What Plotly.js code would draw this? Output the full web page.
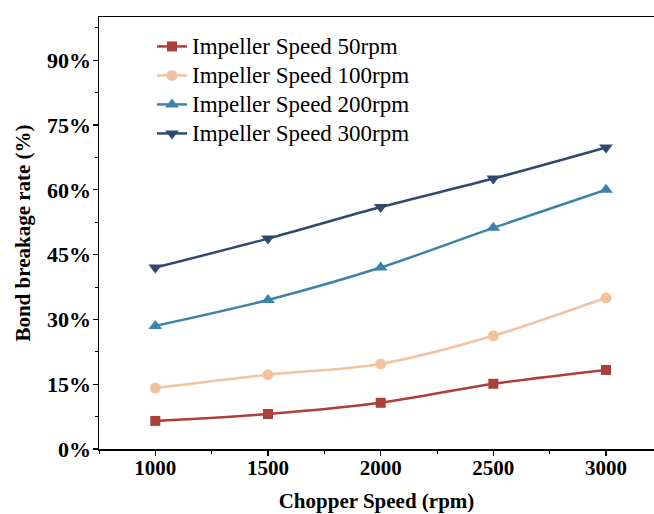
<!DOCTYPE html>
<html>
<head>
<meta charset="utf-8">
<script src="https://cdn.plot.ly/plotly-3.0.1.min.js"></script>
<style>html,body{margin:0;padding:0;background:#fff;}#chart{width:654px;height:514px;}</style>
</head>
<body>
<div id="chart"></div>
<script>
var chopperSpeed = [1000, 1500, 2000, 2500, 3000];
var rate50 = [6.5, 8.1, 10.7, 15.1, 18.3];
var rate100 = [14.1, 17.2, 19.7, 26.2, 35.0];
var rate200 = [28.5, 34.5, 42.0, 51.2, 60.0];
var rate300 = [42.0, 48.7, 56.0, 62.6, 69.8];
var seriesNames = ['Impeller Speed 50rpm', 'Impeller Speed 100rpm', 'Impeller Speed 200rpm', 'Impeller Speed 300rpm'];
var yTickVals = [0, 15, 30, 45, 60, 75, 90];
var xTickVals = [1000, 1500, 2000, 2500, 3000];

var FONT = 'Liberation Serif';
var colors = ['#AC3F38', '#F3C29F', '#3C83AA', '#2F4A6F'];
var symbols = ['square', 'circle', 'triangle-up', 'triangle-down'];
var sizes = [10, 11, 12, 12];
var allY = [rate50, rate100, rate200, rate300];

var traces = allY.map(function (ys, i) {
  return {
    x: chopperSpeed, y: ys, type: 'scatter', mode: 'lines+markers',
    name: '<span style="font-size:23px">' + seriesNames[i] + '</span>',
    line: {color: colors[i], width: 2.5, shape: 'spline', smoothing: 0.8},
    marker: {symbol: symbols[i], size: sizes[i], color: colors[i]}
  };
});

var layout = {
  width: 654, height: 514,
  margin: {l: 99, r: 0, t: 17, b: 65},
  paper_bgcolor: '#fff', plot_bgcolor: '#fff',
  showlegend: true,
  legend: {x: 0.0955, y: 0.977, xanchor: 'left', yanchor: 'top', bgcolor: 'rgba(0,0,0,0)',
    font: {family: FONT, size: 20, color: '#000'},
    tracegroupgap: 0},
  xaxis: {
    range: [750, 3213], tickvals: xTickVals, ticktext: xTickVals.map(String),
    showgrid: false, zeroline: false, showline: true, linecolor: '#000', linewidth: 1.5,
    mirror: true, ticks: 'outside', ticklen: 5, tickwidth: 1.2, tickcolor: '#000',
    ticklabelstandoff: -6,
    minor: {dtick: 250, ticks: 'outside', ticklen: 3, tickwidth: 1, tickcolor: '#000', showgrid: false},
    tickfont: {family: FONT, size: 21, color: '#000', weight: 'bold'},
    title: {text: '<b>Chopper Speed (rpm)</b>', font: {family: FONT, size: 21, color: '#000'}, standoff: 14}
  },
  yaxis: {
    range: [0, 100], tickvals: yTickVals, ticktext: yTickVals.map(function (v) { return v + '%'; }),
    showgrid: false, zeroline: false, showline: true, linecolor: '#000', linewidth: 1.5,
    ticks: 'outside', ticklen: 5, tickwidth: 1.2, tickcolor: '#000',
    ticklabelstandoff: -3,
    minor: {dtick: 7.5, ticks: 'outside', ticklen: 3, tickwidth: 1, tickcolor: '#000', showgrid: false},
    tickfont: {family: FONT, size: 22, color: '#000', weight: 'bold'},
    title: {text: '<b>Bond breakage rate (%)</b>', font: {family: FONT, size: 21, color: '#000'}, standoff: 10}
  }
};

Plotly.newPlot('chart', traces, layout, {staticPlot: true, displayModeBar: false});
</script>
</body>
</html>
